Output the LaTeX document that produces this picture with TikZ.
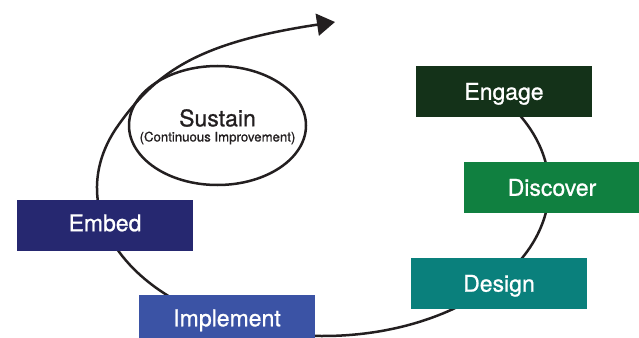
\documentclass[tikz,border=0pt]{standalone}
\usepackage{fontspec}
\setmainfont{TeX Gyre Heros}
\newfontfamily\medfont{TeX Gyre Heros}[FakeBold=0.9]
\usetikzlibrary{arrows.meta,shapes.geometric}
\definecolor{cEngage}{RGB}{20,50,25}
\definecolor{cDiscover}{RGB}{16,128,64}
\definecolor{cDesign}{RGB}{10,128,124}
\definecolor{cImplement}{RGB}{59,83,165}
\definecolor{cEmbed}{RGB}{38,40,112}
\definecolor{cLine}{RGB}{35,31,32}
\begin{document}
\begin{tikzpicture}[x=1pt,y=1pt,yscale=-1,
  stagebox/.style={rectangle, draw=none, minimum width=176pt, minimum height=51pt,
    inner sep=0pt, text=white, font=\medfont\fontsize{23}{27}\selectfont,
    text height=16.5pt, text depth=0pt},
  raisedtext/.style={text depth=5pt},
  spiral/.style={draw=cLine, line width=2.5pt, -{Triangle[length=18pt,width=22pt]}},
  sustainring/.style={draw=cLine, line width=2.5pt, ellipse, minimum width=177pt,
    minimum height=119pt, inner sep=0pt}]
\useasboundingbox (0,0) rectangle (639,337);
% spiral behind the boxes
\coordinate (spiralstart) at (508.1,103.1);
\coordinate (spiralend) at (335,22);
\draw[spiral] (spiralstart)
  arc[start angle=-35, end angle=205, x radius=226pt, y radius=148pt]
  .. controls (156.7,71.2) and (199,42.4) .. (spiralend);
% sustain ellipse
\node[sustainring] (sustain) at (217.5,125.5) {};
\node[text=cLine, font=\medfont\fontsize{23}{23}\selectfont] (sustaintitle) at (217.5,118) {Sustain};
\node[text=cLine, font=\medfont\fontsize{13.2}{13.2}\selectfont] (sustainsub) at (217.5,138) {(Continuous Improvement)};
% stage boxes
\node[stagebox, fill=cEngage] (engage) at (504,91.5) {Engage};
\node[stagebox, fill=cDiscover] (discover) at (552,187.5) {Discover};
\node[stagebox, fill=cDesign] (design) at (499,283.4) {Design};
\node[stagebox, raisedtext, fill=cImplement] (implement) at (227,320.5) {Implement};
\node[stagebox, raisedtext, fill=cEmbed] (embed) at (105,225.4) {Embed};
\end{tikzpicture}
\end{document}
